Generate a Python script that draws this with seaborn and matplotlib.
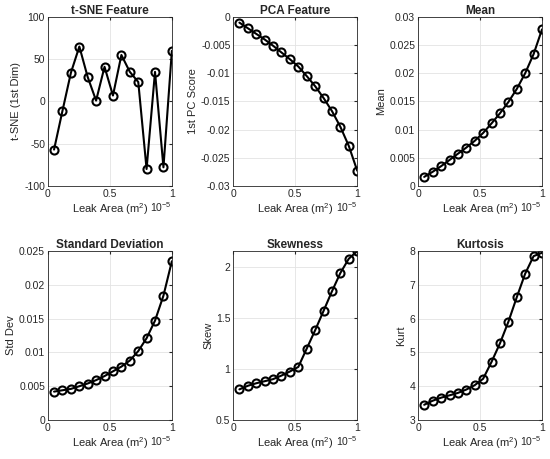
import numpy as np
import pandas as pd
import matplotlib
matplotlib.use('Agg')
import matplotlib.pyplot as plt
import seaborn as sns
from matplotlib.ticker import FuncFormatter, MultipleLocator

# Leak area (x 1e-5 m^2)
leak_area = [0.05, 0.118, 0.186, 0.254, 0.321, 0.389, 0.457, 0.525,
             0.593, 0.661, 0.729, 0.796, 0.864, 0.932, 1.0]

tsne_vals = [-57, -11, 34, 65, 29, 1, 41, 7, 55, 35, 23, -80, 35, -78, 60]
pca_vals = [-0.0010, -0.0020, -0.0030, -0.0040, -0.0051, -0.0063, -0.0075, -0.0088,
            -0.0105, -0.0123, -0.0144, -0.0167, -0.0195, -0.0229, -0.0273]
mean_vals = [0.0016, 0.0025, 0.0035, 0.0046, 0.0057, 0.0068, 0.0080, 0.0094,
             0.0111, 0.0129, 0.0149, 0.0172, 0.0200, 0.0234, 0.0278]
std_vals = [0.0042, 0.0044, 0.0046, 0.0050, 0.0054, 0.0059, 0.0065, 0.0072,
            0.0079, 0.0088, 0.0102, 0.0121, 0.0147, 0.0184, 0.0235]
skew_vals = [0.80, 0.835, 0.86, 0.88, 0.90, 0.935, 0.975, 1.02,
             1.20, 1.38, 1.57, 1.76, 1.94, 2.08, 2.155]
kurt_vals = [3.45, 3.57, 3.66, 3.73, 3.80, 3.90, 4.03, 4.22,
             4.72, 5.27, 5.91, 6.63, 7.33, 7.85, 7.95]

panels = [
    ('t-SNE Feature', 't-SNE (1st Dim)', tsne_vals, (-100, 100), 50),
    ('PCA Feature', '1st PC Score', pca_vals, (-0.03, 0), 0.005),
    ('Mean', 'Mean', mean_vals, (0, 0.03), 0.005),
    ('Standard Deviation', 'Std Dev', std_vals, (0, 0.025), 0.005),
    ('Skewness', 'Skew', skew_vals, (0.5, 2.155), 0.5),
    ('Kurtosis', 'Kurt', kurt_vals, (3, 8), 1),
]

sns.set_style("whitegrid", {'axes.edgecolor': '#262626', 'grid.color': '#e3e3e3',
                            'xtick.direction': 'in', 'ytick.direction': 'in'})
plt.rcParams['font.family'] = ['Liberation Sans', 'DejaVu Sans']
plt.rcParams['mathtext.fontset'] = 'custom'
plt.rcParams['mathtext.rm'] = 'Liberation Sans'
plt.rcParams['mathtext.it'] = 'Liberation Sans:italic'
plt.rcParams['mathtext.bf'] = 'Liberation Sans:bold'
plt.rcParams['axes.unicode_minus'] = False
plt.rcParams['font.size'] = 7.5

fig = plt.figure(figsize=(5.5, 4.59), dpi=100)

lefts = [0.087, 0.424, 0.760]
bottoms = [0.595, 0.085]
w, h = 0.2255, 0.368

for i, (title, ylab, vals, ylim, step) in enumerate(panels):
    ax = fig.add_axes([lefts[i % 3], bottoms[i // 3], w, h])
    df = pd.DataFrame({'x': leak_area, 'y': vals})
    sns.lineplot(data=df, x='x', y='y', ax=ax, color='black', linewidth=1.5,
                 marker='o', markersize=5.8, markerfacecolor='none',
                 markeredgecolor='black', markeredgewidth=1.5)
    ax.set_xlim(0, 1)
    ax.set_ylim(*ylim)
    ax.xaxis.set_major_locator(MultipleLocator(0.5))
    ax.yaxis.set_major_locator(MultipleLocator(step))
    ax.xaxis.set_major_formatter(FuncFormatter(lambda v, p: '%g' % round(v, 6)))
    ax.yaxis.set_major_formatter(FuncFormatter(lambda v, p: '%g' % round(v, 6)))
    ax.set_title(title, fontsize=8.5, fontweight='bold', pad=2)
    ax.set_ylabel(ylab, fontsize=8, color='#262626', labelpad=2)
    ax.set_xlabel('Leak Area (m$^{2}$)', fontsize=8, color='#262626', labelpad=2)
    ax.text(1.0, -0.125, '10$^{\\mathrm{-5}}$', transform=ax.transAxes, fontsize=7.5,
            color='#262626', ha='right', va='center')
    ax.tick_params(axis='both', labelsize=7.5, colors='#262626', length=2,
                   top=True, right=True, pad=2)
    for s in ax.spines.values():
        s.set_linewidth(0.6)
    ax.grid(True, linewidth=0.6)

fig.savefig('out.png', dpi=100)
